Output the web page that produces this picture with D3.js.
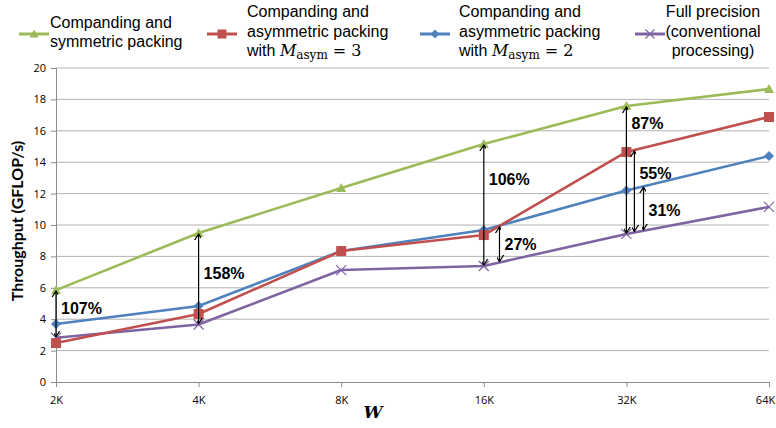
<!DOCTYPE html>
<html><head><meta charset="utf-8">
<script src="https://cdn.jsdelivr.net/npm/d3@7"></script>
<style>body{margin:0;background:#fff}svg{display:block}</style>
</head><body>
<svg id="c" width="776" height="428"></svg>
<script>
const categories = ["2K","4K","8K","16K","32K","64K"];
const yTicks = [0,2,4,6,8,10,12,14,16,18,20];
const symPacking = [5.85, 9.49, 12.36, 15.16, 17.58, 18.66];
const asym3 = [2.48, 4.33, 8.34, 9.36, 14.65, 16.88];
const asym2 = [3.69, 4.84, 8.34, 9.68, 12.2, 14.39];
const fullPrecision = [2.82, 3.66, 7.13, 7.39, 9.43, 11.15];
// annotations: position along category index, from series -> to series, label, label value
const annPos = [0, 1, 3, 3.11, 4, 4.056, 4.12];
const annFrom = ["sym","sym","sym","a3","sym","a3","a2"];
const annTo = ["full","full","full","full","full","full","full"];
const annLabel = ["107%","158%","106%","27%","87%","55%","31%"];
const annLabelY = [4.33, 6.56, 12.55, 8.4, 16.1, 12.9, 10.6];

const series = [
  {key:"sym", values:symPacking, color:"#9BBB59", marker:"triangle", lines:[["Companding and"],["symmetric packing"]]},
  {key:"a3", values:asym3, color:"#C0504D", marker:"square", lines:[["Companding and"],["asymmetric packing"],["with ","M","asym"," = 3"]]},
  {key:"a2", values:asym2, color:"#4F81BD", marker:"diamond", lines:[["Companding and"],["asymmetric packing"],["with ","M","asym"," = 2"]]},
  {key:"full", values:fullPrecision, color:"#8064A2", marker:"x", lines:[["Full precision"],["(conventional"],["processing)"]]}
];
const byKey = Object.fromEntries(series.map(s=>[s.key,s]));

const svg = d3.select("#c");
const x = d3.scaleLinear().domain([0, categories.length-1]).range([56, 769]);
const y = d3.scaleLinear().domain([0, 20]).range([382, 68]);

// gridlines
svg.append("g").selectAll("line").data(yTicks.filter(d=>d>0)).join("line")
  .attr("x1", 56).attr("x2", 769).attr("y1", d=>y(d)).attr("y2", d=>y(d))
  .attr("stroke", "#b3b3b3").attr("stroke-width", 1);

// y axis
const ya = svg.append("g").attr("transform","translate(56,0)")
  .call(d3.axisLeft(y).tickValues(yTicks).tickSize(5).tickPadding(5).tickFormat(d3.format("d")));
ya.select(".domain").attr("stroke","#8c8c8c");
ya.selectAll(".tick line").attr("stroke","#8c8c8c");
ya.selectAll("text").attr("font-family","'Open Sans', sans-serif").attr("font-size",11).attr("fill","#000");

// x axis
const xa = svg.append("g").attr("transform","translate(0,382)")
  .call(d3.axisBottom(x).tickValues(d3.range(categories.length)).tickSize(5).tickPadding(9).tickFormat(i=>categories[i]));
xa.select(".domain").attr("stroke","#8c8c8c");
xa.selectAll(".tick line").attr("stroke","#8c8c8c");
xa.selectAll("text").attr("font-family","'Open Sans', sans-serif").attr("font-size",11).attr("fill","#000");
xa.selectAll(".tick text").filter((d,i)=>i===categories.length-1).attr("dx",-4);

// axis titles
svg.append("text").attr("transform","translate(23,221) rotate(-90)")
  .attr("text-anchor","middle").attr("font-family","Lato, 'Open Sans', sans-serif")
  .attr("font-weight","bold").attr("font-size",16).text("Throughput (GFLOP/s)");
svg.append("text").attr("x",373).attr("y",418).attr("text-anchor","middle")
  .attr("font-family","'DejaVu Serif', serif").attr("font-style","italic").attr("font-weight","bold")
  .attr("font-size",17).text("W");

function drawMarker(g, type, color, cx, cy, scale=1){
  const s = scale;
  if(type==="triangle"){
    g.append("path").attr("d",`M${cx},${cy-5*s}L${cx+5*s},${cy+4*s}L${cx-5*s},${cy+4*s}Z`).attr("fill",color);
  } else if(type==="square"){
    g.append("rect").attr("x",cx-5*s).attr("y",cy-5*s).attr("width",10*s).attr("height",10*s).attr("fill",color);
  } else if(type==="diamond"){
    g.append("path").attr("d",`M${cx},${cy-5*s}L${cx+5*s},${cy}L${cx},${cy+5*s}L${cx-5*s},${cy}Z`).attr("fill",color);
  } else {
    g.append("path").attr("d",`M${cx-5*s},${cy-5*s}L${cx+5*s},${cy+5*s}M${cx+5*s},${cy-5*s}L${cx-5*s},${cy+5*s}`)
      .attr("stroke",color).attr("stroke-width",1.2).attr("fill","none");
  }
}

const line = d3.line().x((d,i)=>x(i)).y(d=>y(d));
const order = ["sym","full","a2","a3"];
order.forEach(k=>{
  const s = byKey[k];
  svg.append("path").datum(s.values).attr("d",line).attr("fill","none")
    .attr("stroke",s.color).attr("stroke-width",2.6).attr("stroke-linejoin","round");
});
order.forEach(k=>{
  const s = byKey[k];
  const g = svg.append("g");
  s.values.forEach((v,i)=>drawMarker(g, s.marker, s.color, x(i), y(v)));
});

// arrows
const defs = svg.append("defs");
defs.append("marker").attr("id","ah").attr("viewBox","-6 -8 12 10").attr("markerWidth",12).attr("markerHeight",10)
  .attr("markerUnits","userSpaceOnUse").attr("refX",0).attr("refY",0).attr("orient","auto-start-reverse")
  .append("path").attr("d","M-4.5,7L0,0L4.5,7").attr("transform","rotate(90)")
  .attr("fill","none").attr("stroke","#000").attr("stroke-width",1.2);

function interp(vals, p){
  const i = Math.min(Math.floor(p), vals.length-2);
  const t = p - i;
  return vals[i]*(1-t) + vals[i+1]*t;
}
annPos.forEach((p,i)=>{
  const px = x(p);
  const y1 = y(interp(byKey[annFrom[i]].values, p));
  const y2 = y(interp(byKey[annTo[i]].values, p));
  svg.append("line").attr("x1",px).attr("x2",px).attr("y1",y1+1).attr("y2",y2-1)
    .attr("stroke","#000").attr("stroke-width",1.2)
    .attr("marker-start","url(#ah)").attr("marker-end","url(#ah)");
  svg.append("text").attr("x",px+5).attr("y",y(annLabelY[i]))
    .attr("font-family","'Liberation Sans', Arial, sans-serif").attr("font-weight","bold")
    .attr("font-size",16).text(annLabel[i]);
});

// legend
const legX = [19, 207, 420, 635];
const legTextX = [50, 247, 459, 713];
const legAnchor = ["start","start","start","middle"];
const legBase = [[28,47],[17,37,56],[17,37,56],[17,37,56]];
series.forEach((s,i)=>{
  const g = svg.append("g");
  g.append("line").attr("x1",legX[i]).attr("x2",legX[i]+30).attr("y1",34).attr("y2",34)
    .attr("stroke",s.color).attr("stroke-width",3);
  drawMarker(g, s.marker, s.color, legX[i]+15, 34, 0.9);
  s.lines.forEach((ln,j)=>{
    const t = g.append("text").attr("x",legTextX[i]).attr("y",legBase[i][j])
      .attr("text-anchor",legAnchor[i]).attr("font-family","'Liberation Sans', Arial, sans-serif").attr("font-size",16);
    if(ln.length===1){ t.text(ln[0]); }
    else {
      t.append("tspan").text(ln[0]);
      t.append("tspan").attr("font-family","'DejaVu Serif', serif").attr("font-style","italic").text(ln[1]);
      t.append("tspan").attr("font-family","'DejaVu Serif', serif").attr("font-size",12).attr("dy",3).text(ln[2]);
      t.append("tspan").attr("font-family","'DejaVu Serif', serif").attr("dy",-3).text(ln[3]);
    }
  });
});
</script>
</body></html>
